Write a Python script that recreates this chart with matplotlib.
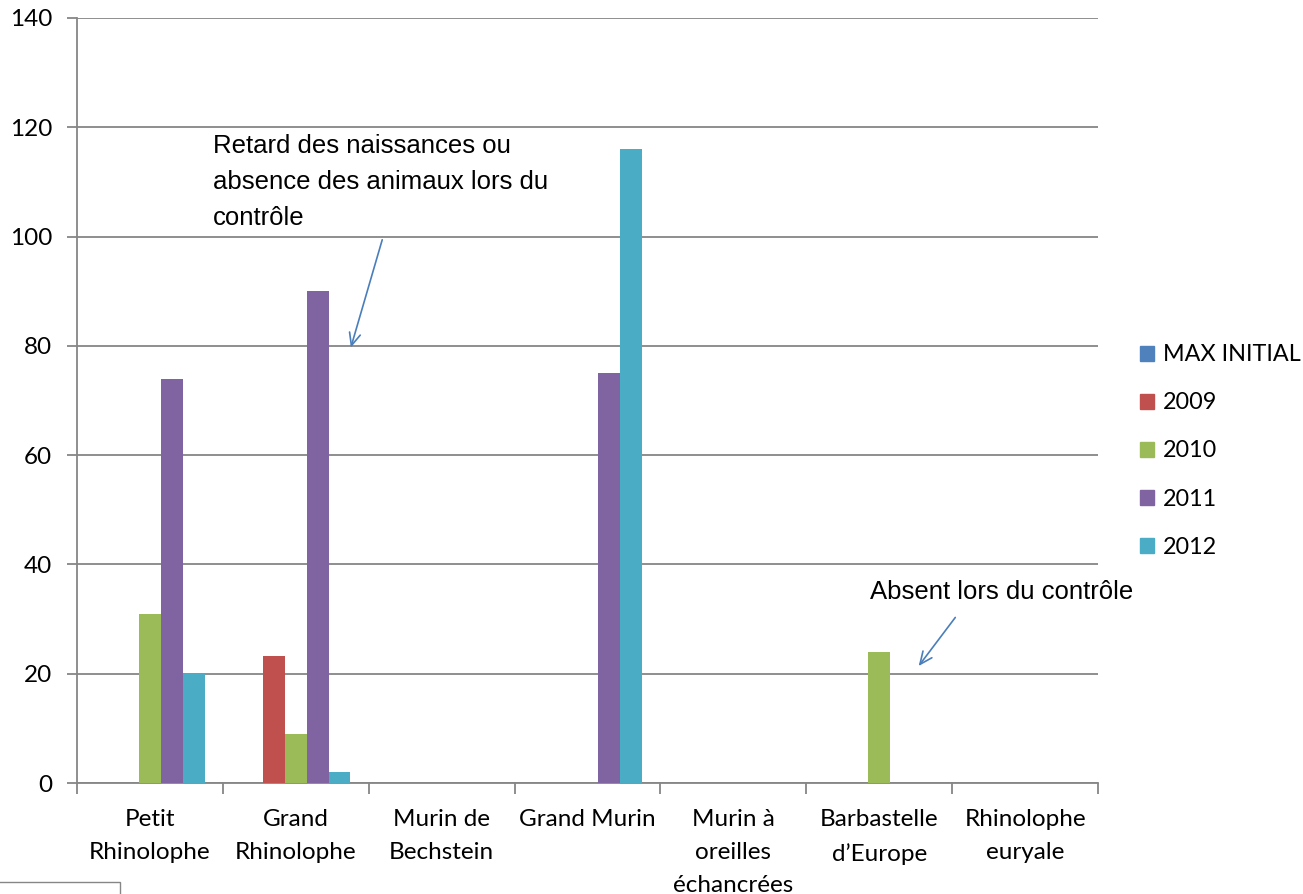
import matplotlib
matplotlib.use("Agg")
import matplotlib.pyplot as plt
import matplotlib.patches as mpatches
import numpy as np

categories = ["Petit\nRhinolophe", "Grand\nRhinolophe", "Murin de\nBechstein", "Grand Murin",
              "Murin à\noreilles\néchancrées", "Barbastelle\nd’Europe", "Rhinolophe\neuryale"]
series_names = ["MAX INITIAL", "2009", "2010", "2011", "2012"]
max_initial = [0, 0, 0, 0, 0, 0, 0]
y2009 = [0, 23.2, 0, 0, 0, 0, 0]
y2010 = [31, 9, 0, 0, 0, 24, 0]
y2011 = [74, 90, 0, 75, 0, 0, 0]
y2012 = [20, 2, 0, 116, 0, 0, 0]
colors = ["#4F81BD", "#C0504D", "#9BBB59", "#8064A2", "#4BACC6"]
yticks = [0, 20, 40, 60, 80, 100, 120, 140]

series = [max_initial, y2009, y2010, y2011, y2012]

fig = plt.figure(figsize=(13.03, 8.94), dpi=100)
ax = fig.add_axes([77/1303, 1-783/894, (1098-77)/1303, (783-18)/894])

tick_font = "Lato"
fs = 17.5
n = len(categories)
x = np.arange(n)
w = 0.15
for i, (vals, col) in enumerate(zip(series, colors)):
    ax.bar(x + (i - 2) * w, vals, width=w, color=col, label=series_names[i], zorder=3)

ax.set_xlim(-0.5, n - 0.5)
ax.set_ylim(0, 140)
ax.set_yticks(yticks)
ax.set_yticklabels([str(t) for t in yticks], fontsize=fs, family=tick_font)
ax.yaxis.grid(True, color="#868686", linewidth=1.3, zorder=0)
ax.set_axisbelow(True)

ax.set_xticks(np.arange(-0.5, n, 1.0))
ax.set_xticklabels([])
ax.set_xticks(x, minor=True)
ax.set_xticklabels(categories, minor=True, fontsize=fs, family=tick_font, linespacing=1.7, va="top")
ax.tick_params(axis="x", which="minor", length=0, pad=19)
ax.tick_params(axis="x", which="major", length=8, color="#868686", width=1.3, direction="out")
ax.tick_params(axis="y", length=7, color="#868686", width=1.3, pad=11)

for s in ["top", "right"]:
    ax.spines[s].set_visible(False)
for s in ["left", "bottom"]:
    ax.spines[s].set_color("#868686")
    ax.spines[s].set_linewidth(1.3)

ann_col = "#4A7EBB"
ax.text(0.432, 110, "Retard des naissances ou\nabsence des animaux lors du\ncontrôle",
        fontsize=18.5, family="Liberation Sans", va="center", ha="left", linespacing=1.63)
ax.annotate("", xy=(1.372, 79.2), xytext=(1.598, 99.9),
            arrowprops=dict(arrowstyle="->,head_length=0.9,head_width=0.4", color=ann_col, lw=1.2))
ax.text(4.937, 35.0, "Absent lors du contrôle", fontsize=18.5, family="Liberation Sans",
        va="center", ha="left")
ax.annotate("", xy=(5.259, 21.0), xytext=(5.533, 30.7),
            arrowprops=dict(arrowstyle="->,head_length=0.9,head_width=0.4", color=ann_col, lw=1.2))

handles = [mpatches.Patch(color=c, label=l) for c, l in zip(colors, series_names)]
fig.legend(handles=handles, loc="center left", bbox_to_anchor=(1140/1303, 1-451/894),
           frameon=False, prop=dict(family=tick_font, size=16.8), handlelength=0.62,
           handleheight=0.62, handletextpad=0.38, labelspacing=1.16, borderaxespad=0,
           borderpad=0)

fig.add_artist(mpatches.Rectangle((-0.01, -0.01), 120/1303 + 0.01, 12/894 + 0.01,
                                  transform=fig.transFigure, fill=False,
                                  edgecolor="#868686", linewidth=1.0))

fig.savefig("out.png", dpi=100)
